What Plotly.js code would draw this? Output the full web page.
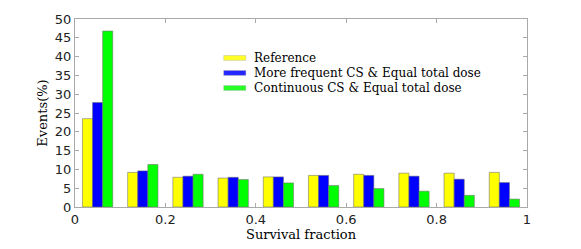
<!DOCTYPE html>
<html>
<head>
<meta charset="utf-8">
<script src="https://cdn.plot.ly/plotly-3.0.1.min.js"></script>
<style>html,body{margin:0;padding:0;background:#fff;}#chart{width:581px;height:249px;}</style>
</head>
<body>
<div id="chart"></div>
<script>
var binCenters = [0.05, 0.15, 0.25, 0.35, 0.45, 0.55, 0.65, 0.75, 0.85, 0.95];
var seriesNames = ["Reference", "More frequent CS &amp; Equal total dose", "Continuous CS &amp; Equal total dose"];
var referenceVals = [23.5, 9.2, 7.9, 7.7, 8.0, 8.4, 8.7, 9.0, 9.0, 9.2];
var frequentVals = [27.8, 9.6, 8.2, 7.9, 8.0, 8.4, 8.4, 8.2, 7.4, 6.5];
var continuousVals = [46.8, 11.3, 8.7, 7.3, 6.4, 5.7, 4.9, 4.2, 3.1, 2.1];
var xTickVals = [0, 0.2, 0.4, 0.6, 0.8, 1];
var xTickText = ["0", "0.2", "0.4", "0.6", "0.8", "1"];
var yTickVals = [0, 5, 10, 15, 20, 25, 30, 35, 40, 45, 50];

var colors = ["#ffff00", "#0000ff", "#00ff00"];
var seriesVals = [referenceVals, frequentVals, continuousVals];
var traces = seriesVals.map(function(v, i) {
  return {
    type: "bar",
    x: binCenters,
    y: v,
    name: seriesNames[i],
    showlegend: false,
    marker: {color: colors[i], line: {color: "rgba(110,110,110,0.7)", width: 0.8}}
  };
});

var serif = "'DejaVu Serif', serif";
var sans = "'DejaVu Sans', sans-serif";

// hand-built legend (Plotly's legend rows cannot be spaced this tightly)
var legendRowsY = [0.793, 0.713, 0.633];
var shapes = [];
var annotations = [];
seriesNames.forEach(function(name, i) {
  shapes.push({
    type: "rect", xref: "paper", yref: "paper",
    x0: 0.329, x1: 0.378,
    y0: legendRowsY[i] - 0.013, y1: legendRowsY[i] + 0.013,
    fillcolor: colors[i], opacity: 0.85,
    line: {color: "rgba(150,150,150,0.6)", width: 0.6}
  });
  annotations.push({
    xref: "paper", yref: "paper",
    x: 0.392, y: legendRowsY[i],
    xanchor: "left", yanchor: "middle",
    text: name, showarrow: false,
    font: {family: serif, size: 12, color: "#000"}
  });
});

var layout = {
  width: 581, height: 249,
  margin: {l: 75, r: 54, t: 18.5, b: 42},
  barmode: "group",
  bargap: 0.33,
  bargroupgap: 0,
  paper_bgcolor: "#fff",
  plot_bgcolor: "#fff",
  showlegend: false,
  shapes: shapes,
  annotations: annotations,
  xaxis: {
    range: [0, 1],
    tickvals: xTickVals, ticktext: xTickText,
    ticks: "inside", ticklen: 4, tickcolor: "#aaa",
    showline: true, linecolor: "#aaa", linewidth: 1, mirror: "ticks",
    showgrid: false, zeroline: false,
    tickfont: {family: sans, size: 13, color: "#222"},
    title: {text: "Survival fraction", font: {family: serif, size: 13, color: "#000"}, standoff: 2}
  },
  yaxis: {
    range: [0, 50],
    tickvals: yTickVals,
    ticks: "inside", ticklen: 4, tickcolor: "#aaa",
    showline: true, linecolor: "#aaa", linewidth: 1, mirror: "ticks",
    showgrid: false, zeroline: false,
    tickfont: {family: sans, size: 13, color: "#222"},
    title: {text: "Events(%)", font: {family: serif, size: 13, color: "#000"}, standoff: 4}
  }
};
Plotly.newPlot("chart", traces, layout, {displayModeBar: false, staticPlot: true});
</script>
</body>
</html>
